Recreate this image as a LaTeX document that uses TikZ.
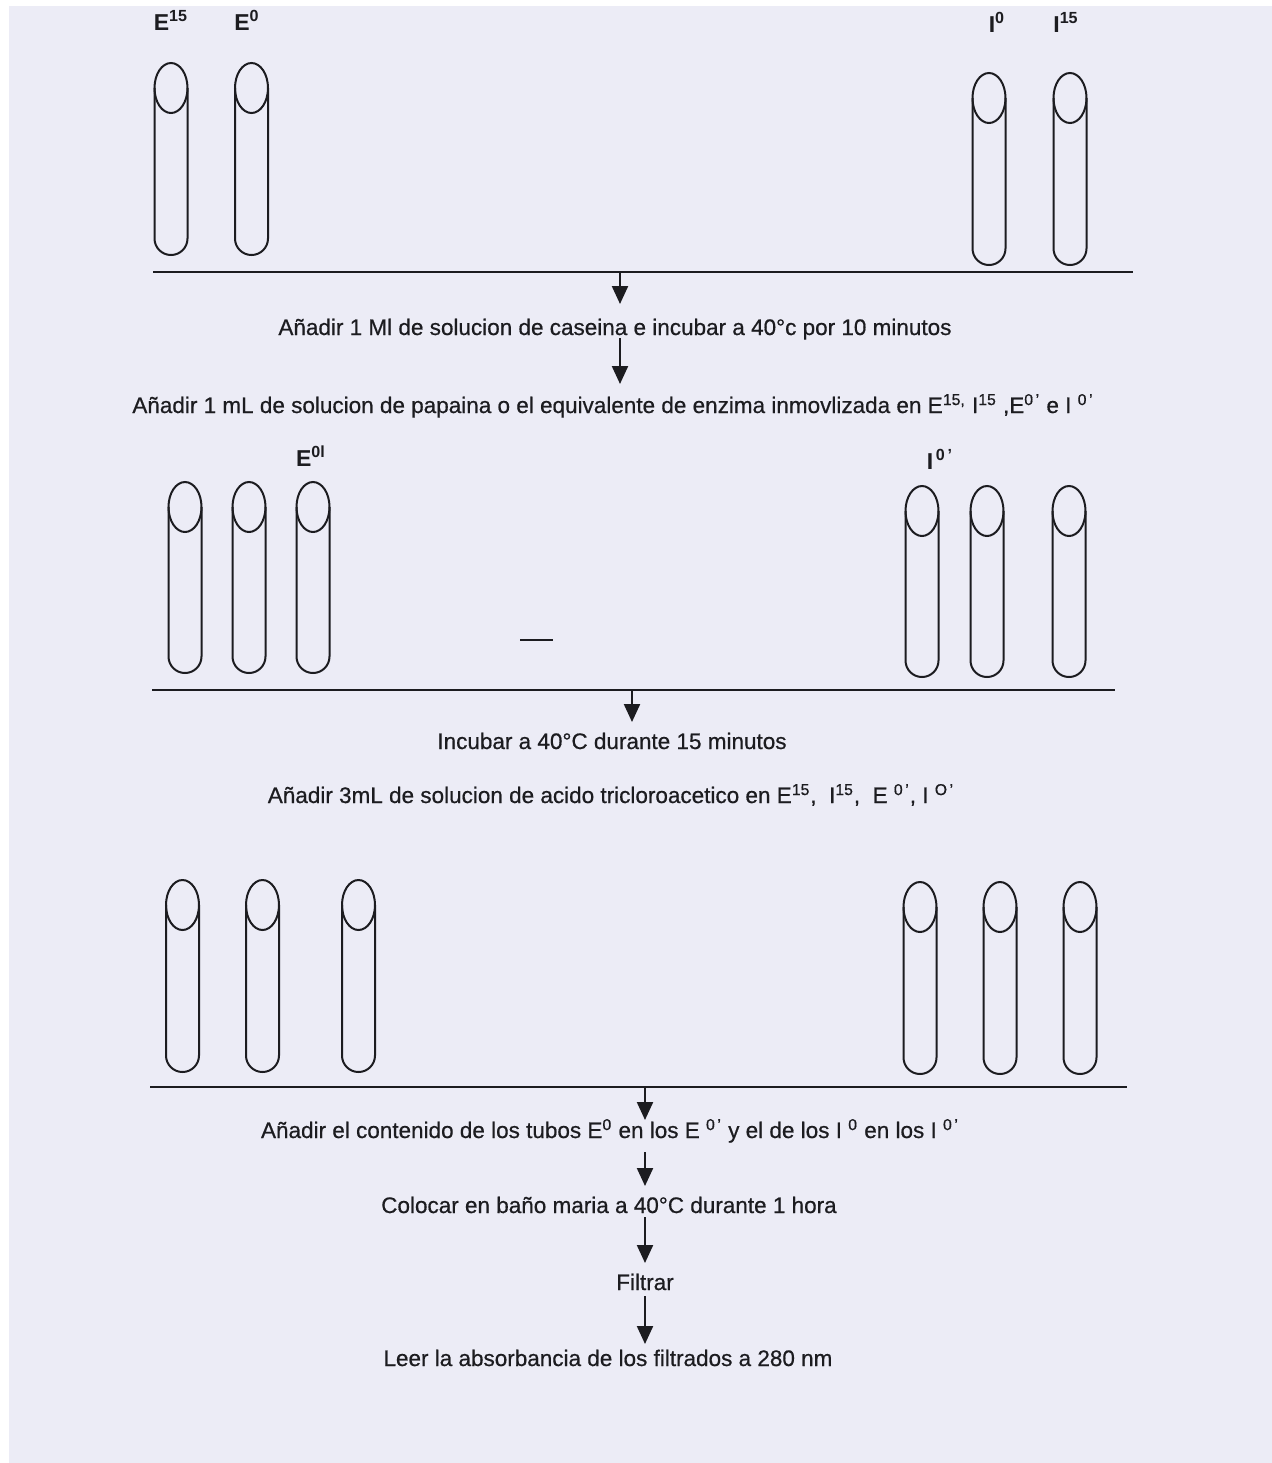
\documentclass[tikz,border=0pt]{standalone}
\usepackage{fontspec}
\setmainfont{Liberation Sans}
\newfontface\steptextfont{Liberation Sans}[FakeBold=0.6]
\usetikzlibrary{arrows.meta}
\definecolor{paper}{RGB}{236,236,246}
\definecolor{ink}{RGB}{28,28,32}
\begin{document}
\begin{tikzpicture}[x=0.5pt,y=-0.5pt,
  tubeline/.style={draw=ink,line width=1pt},
  bar/.style={draw=ink,line width=1.4pt},
  arr/.style={draw=ink,line width=1.1pt,-{Triangle[width=8pt,length=9pt]}},
  step text/.style={anchor=base,inner sep=0pt,text=ink,font=\fontsize{11.25}{13}\steptextfont},
  tube label/.style={anchor=base,inner sep=0pt,text=ink,font=\fontsize{11.5}{13}\selectfont\bfseries},
  pics/tube/.style={code={
    \draw[tubeline] (0,25) ellipse [x radius=16.5,y radius=25];
    \draw[tubeline,rounded corners=8.25pt] (-16.5,25) -- (-16.5,#1) -- (16.5,#1) -- (16.5,25);
  }}]
% paper
\fill[paper] (0,0) rectangle (1272,1463);
\fill[white] (0,0) rectangle (9,1463);
\fill[white] (0,0) rectangle (1272,6);
\useasboundingbox (0,0) rectangle (1272,1463);

% ---- first rack ----
\node[tube label] (lE15) at (171,30) {E\textsuperscript{15}};
\node[tube label] (lE0) at (247,30) {E\textsuperscript{0}};
\node[tube label] (lI0) at (997,32) {I\textsuperscript{0}};
\node[tube label] (lI15) at (1066,32) {I\textsuperscript{15}};
\pic at (171,63) {tube=192};
\pic at (251.5,63) {tube=192};
\pic at (989,73) {tube=192};
\pic at (1070,73) {tube=192};
\coordinate (b1l) at (153,272); \coordinate (b1r) at (1133,272);
\draw[bar] (b1l) -- (b1r);

\node[step text] (t1) at (615,335) {Añadir 1 Ml de solucion de caseina e incubar a 40°c por 10 minutos};
\node[step text] (t2) at (613,413) {Añadir 1 mL de solucion de papaina o el equivalente de enzima inmovlizada en E\textsuperscript{15,} I\textsuperscript{15} ,E\textsuperscript{0\,’} e I \textsuperscript{0\,’}};
\coordinate (a1s) at (620,272); \coordinate (a1e) at (620,304);
\coordinate (a2s) at (620,338); \coordinate (a2e) at (620,384);
\draw[arr] (a1s) -- (a1e);
\draw[arr] (a2s) -- (a2e);

% ---- second rack ----
\node[tube label] (lE0l) at (311,466) {E\textsuperscript{0l}};
\node[tube label] (lI0p) at (940,469) {I\textsuperscript{\,0\,’}};
\pic at (185,482) {tube=191};
\pic at (249,482) {tube=191};
\pic at (313,482) {tube=191};
\pic at (922,486) {tube=191};
\pic at (987,486) {tube=191};
\pic at (1069,486) {tube=191};
\coordinate (d1) at (520,640); \coordinate (d2) at (553,640);
\draw[ink,line width=1pt] (d1) -- (d2);
\coordinate (b2l) at (152,690); \coordinate (b2r) at (1115,690);
\draw[bar] (b2l) -- (b2r);

\node[step text] (t3) at (612,749) {Incubar a 40°C durante 15 minutos};
\node[step text] (t4) at (611,803) {Añadir 3mL de solucion de acido tricloroacetico en E\textsuperscript{15},\ \ I\textsuperscript{15},\ \ E \textsuperscript{0\,’}, I \textsuperscript{O\,’}};
\coordinate (a3s) at (632,690); \coordinate (a3e) at (632,722);
\draw[arr] (a3s) -- (a3e);

% ---- third rack ----
\pic at (182.5,880) {tube=192};
\pic at (262.5,880) {tube=192};
\pic at (358.5,880) {tube=192};
\pic at (920,882) {tube=192};
\pic at (1000,882) {tube=192};
\pic at (1080,882) {tube=192};
\coordinate (b3l) at (150,1087); \coordinate (b3r) at (1127,1087);
\draw[bar] (b3l) -- (b3r);

\node[step text] (t5) at (610,1138) {Añadir el contenido de los tubos E\textsuperscript{0} en los E \textsuperscript{0\,’} y el de los I \textsuperscript{0} en los I \textsuperscript{0\,’}};
\node[step text] (t6) at (609,1213) {Colocar en baño maria a 40°C durante 1 hora};
\node[step text] (t7) at (645,1290) {Filtrar};
\node[step text] (t8) at (608,1366) {Leer la absorbancia de los filtrados a 280 nm};
\coordinate (a4s) at (645,1087); \coordinate (a4e) at (645,1120);
\coordinate (a5s) at (645,1152); \coordinate (a5e) at (645,1186);
\coordinate (a6s) at (645,1217); \coordinate (a6e) at (645,1263);
\coordinate (a7s) at (645,1296); \coordinate (a7e) at (645,1344);
\draw[arr] (a4s) -- (a4e);
\draw[arr] (a5s) -- (a5e);
\draw[arr] (a6s) -- (a6e);
\draw[arr] (a7s) -- (a7e);
\end{tikzpicture}
\end{document}
